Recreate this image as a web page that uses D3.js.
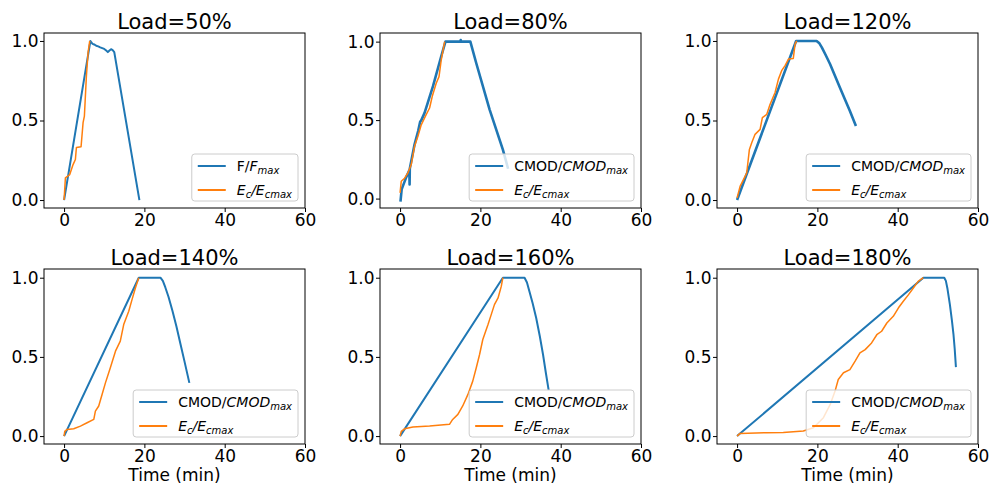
<!DOCTYPE html>
<html>
<head>
<meta charset="utf-8">
<script src="https://cdn.jsdelivr.net/npm/d3@7"></script>
<style>
  body { margin: 0; background: #fff; }
  svg { display: block; font-family: "DejaVu Sans", sans-serif; }
</style>
</head>
<body>
<div id="chart"></div>
<script>
/* DATA */
const titles = ["Load=50%", "Load=80%", "Load=120%", "Load=140%", "Load=160%", "Load=180%"];
const xTicks = [0, 20, 40, 60];
const yTicks = [0, 0.5, 1.0];
const yTickLabels = ["0.0", "0.5", "1.0"];
const yMins = [-0.05, -0.06, -0.05, -0.05, -0.05, -0.05];
const yMaxs = [1.05, 1.055, 1.05, 1.055, 1.055, 1.055];

// blue series: F/Fmax (50%) or CMOD/CMODmax, [time, value]
const blue50 = [[0,0],[6.56,1.0],[6.8,0.99],[7.1,0.982],[7.5,0.978],[8.0,0.97],[8.5,0.966],[9.0,0.96],[9.5,0.955],[10.0,0.95],[10.5,0.94],[10.9,0.93],[11.3,0.94],[11.7,0.948],[12.1,0.942],[12.5,0.93],[18.76,0]];
const blue80 = [[0.1,-0.02],[0.4,0.06],[1.0,0.1],[1.6,0.14],[2.3,0.18],[2.37,0.09],[2.42,0.19],[3.6,0.344],[4.5,0.43],[5.0,0.49],[5.3,0.5],[6.1,0.546],[8.2,0.716],[10.25,0.907],[11.3,1.0],[15.0,1.0],[15.1,1.01],[15.2,1.0],[17.5,1.0],[18.96,0.864],[22.3,0.567],[25.6,0.312],[26.9,0.19]];
const blue120 = [[0,0],[14.7,1.0],[19.8,1.0],[20.5,0.985],[21.1,0.96],[22,0.915],[23.15,0.855],[24.4,0.78],[25.6,0.707],[26.9,0.63],[28.1,0.56],[29.6,0.465]];
const blue140 = [[0,0],[18.6,1.0],[24.0,1.0],[24.6,0.98],[25.2,0.94],[26,0.88],[27,0.79],[28,0.69],[29,0.58],[30,0.47],[31.2,0.336]];
const blue160 = [[0,0],[25.6,1.0],[31.0,1.0],[31.6,0.97],[32.2,0.914],[33,0.84],[33.9,0.746],[34.8,0.63],[35.6,0.515],[36.3,0.4],[37.0,0.29]];
const blue180 = [[0,0],[46.4,1.0],[51.6,1.0],[52.0,0.98],[52.4,0.93],[53.0,0.83],[53.5,0.73],[53.9,0.64],[54.2,0.55],[54.5,0.435]];

// orange series: Ec/Ecmax
const orange50 = [[0,0],[0.33,0.14],[1.41,0.16],[2.24,0.223],[2.82,0.255],[3.07,0.33],[4.23,0.335],[4.73,0.486],[5.06,0.528],[5.56,0.78],[5.98,0.928],[6.39,1.0]];
const orange80 = [[0,0.036],[0.29,0.11],[1.12,0.13],[1.95,0.163],[2.78,0.217],[3.6,0.333],[4.44,0.397],[5.27,0.47],[6.5,0.535],[7.35,0.577],[8.0,0.65],[9.0,0.735],[9.7,0.777],[10.25,0.883],[11.1,1.0]];
const orange120 = [[0,0.013],[0.75,0.086],[1.58,0.128],[2.4,0.17],[3.07,0.318],[3.65,0.36],[4.48,0.413],[5.73,0.444],[6.3,0.518],[7.4,0.539],[8.2,0.6],[9.46,0.676],[10.3,0.76],[11.1,0.813],[11.95,0.845],[12.8,0.886],[14.0,0.89],[14.44,0.98],[14.85,1.0]];
const orange140 = [[0,0],[0.17,0.03],[0.75,0.042],[2.4,0.046],[4.07,0.063],[5.73,0.084],[7.4,0.105],[7.8,0.158],[8.63,0.19],[9.46,0.263],[10.3,0.336],[11.5,0.43],[12.8,0.536],[14.0,0.6],[14.85,0.704],[16.1,0.788],[16.9,0.86],[17.76,0.935],[18.6,1.0]];
const orange160 = [[0,0],[0.3,0.03],[1.12,0.046],[3.2,0.057],[7.35,0.063],[12.3,0.074],[13.1,0.105],[14.4,0.137],[15.6,0.19],[16.9,0.263],[18.1,0.347],[18.96,0.43],[19.8,0.515],[20.6,0.61],[21.9,0.704],[22.7,0.767],[23.5,0.83],[24.4,0.872],[25.2,0.945],[25.6,1.0]];
const orange180 = [[0,0],[0.75,0.017],[7.4,0.021],[11.5,0.023],[16.5,0.032],[19.0,0.053],[21.5,0.116],[23.2,0.2],[24.4,0.284],[25.2,0.357],[26.5,0.4],[28.1,0.42],[29.4,0.473],[30.6,0.525],[31.9,0.546],[33.5,0.588],[34.8,0.64],[36.0,0.662],[37.3,0.714],[38.9,0.756],[40.2,0.81],[41.4,0.851],[42.7,0.893],[43.9,0.935],[45.1,0.977],[46.4,1.0]];

// legend labels as text parts (i = italic, sub = subscript)
const labelForce = [{t:"F/"},{t:"F",i:true},{t:"max",i:true,sub:true}];
const labelCmod = [{t:"CMOD/"},{t:"CMOD",i:true},{t:"max",i:true,sub:true}];
const labelEc = [{t:"E",i:true},{t:"c",i:true,sub:true},{t:"/",i:true},{t:"E",i:true},{t:"cmax",i:true,sub:true}];

const blueSeries = [blue50, blue80, blue120, blue140, blue160, blue180];
const orangeSeries = [orange50, orange80, orange120, orange140, orange160, orange180];
const blueLabels = [labelForce, labelCmod, labelCmod, labelCmod, labelCmod, labelCmod];

/* LAYOUT */
const width = 991, height = 487;
const colLeft = [44, 380, 717], rowTop = [33, 269];
const pw = 261, ph = 175;
const blue = "#1f77b4", orange = "#ff7f0e";

const svg = d3.select("#chart").append("svg")
  .attr("width", width).attr("height", height);

titles.forEach((title, i) => {
  const left = colLeft[i % 3], top = rowTop[Math.floor(i / 3)];
  const x = d3.scaleLinear().domain([-5, 60]).range([left, left + pw]);
  const y = d3.scaleLinear().domain([yMins[i], yMaxs[i]]).range([top + ph, top]);

  const g = svg.append("g");

  g.append("clipPath").attr("id", "clip" + i)
    .append("rect").attr("x", left).attr("y", top).attr("width", pw).attr("height", ph);

  const line = d3.line().x(d => x(d[0])).y(d => y(d[1]));

  // noisy measured data in the 80% / 120% panels reads as a thicker stroke
  const blueWidth = (i === 1 || i === 2) ? 2.6 : 2;

  const plot = g.append("g").attr("clip-path", `url(#clip${i})`);
  plot.append("path").datum(blueSeries[i])
    .attr("d", line).attr("fill", "none")
    .attr("stroke", blue).attr("stroke-width", blueWidth).attr("stroke-linejoin", "round");
  plot.append("path").datum(orangeSeries[i])
    .attr("d", line).attr("fill", "none")
    .attr("stroke", orange).attr("stroke-width", 1.5).attr("stroke-linejoin", "round");

  // axes
  const xAxis = g.append("g")
    .attr("transform", `translate(0,${top + ph})`)
    .call(d3.axisBottom(x).tickValues(xTicks).tickSize(4).tickPadding(2));
  const yAxis = g.append("g")
    .attr("transform", `translate(${left},0)`)
    .call(d3.axisLeft(y).tickValues(yTicks).tickFormat((d, k) => yTickLabels[k]).tickSize(4).tickPadding(1.5));
  [xAxis, yAxis].forEach(a => {
    a.select(".domain").remove();
    a.selectAll("text").attr("font-size", 17).attr("fill", "#000").attr("font-family", "DejaVu Sans");
    a.selectAll("line").attr("stroke", "#000");
  });

  // frame
  g.append("rect").attr("x", left).attr("y", top).attr("width", pw).attr("height", ph)
    .attr("fill", "none").attr("stroke", "#000").attr("stroke-width", 1);

  // title
  g.append("text").attr("x", left + pw / 2).attr("y", top - 4)
    .attr("text-anchor", "middle").attr("font-size", 21).attr("fill", "#000")
    .text(title);

  if (i >= 3) {
    g.append("text").attr("x", left + pw / 2).attr("y", top + ph + 37)
      .attr("text-anchor", "middle").attr("font-size", 17).attr("fill", "#000")
      .text("Time (min)");
  }

  // legend (lower right)
  const leg = g.append("g");
  const box = leg.append("rect");
  const entries = [[blue, blueLabels[i], 2], [orange, labelEc, 2]];
  let maxW = 0;
  const texts = [];
  entries.forEach(([col, parts, sw]) => {
    const t = leg.append("text").attr("font-size", 14).attr("fill", "#000");
    parts.forEach((p, j) => {
      const ts = t.append("tspan").text(p.t)
        .attr("font-style", p.i ? "italic" : "normal");
      if (p.sub) ts.attr("font-size", 10).attr("dy", 3);
      else if (j > 0 && parts[j - 1].sub) ts.attr("dy", -3);
    });
    maxW = Math.max(maxW, t.node().getComputedTextLength());
    texts.push([t, col, sw]);
  });
  const legW = 6 + 28 + 11 + maxW + 6, legH = 47;
  const lx = left + pw - 7 - legW, ly = top + ph - 7 - legH;
  box.attr("x", lx).attr("y", ly).attr("width", legW).attr("height", legH)
    .attr("rx", 3).attr("fill", "#fff").attr("fill-opacity", 0.8)
    .attr("stroke", "#cccccc").attr("stroke-width", 1);
  texts.forEach(([t, col, sw], k) => {
    const cy = ly + 12 + k * 24;
    leg.append("line").attr("x1", lx + 6).attr("x2", lx + 34)
      .attr("y1", cy).attr("y2", cy).attr("stroke", col).attr("stroke-width", sw);
    t.attr("x", lx + 45).attr("y", cy + 5);
  });
});
</script>
</body>
</html>
